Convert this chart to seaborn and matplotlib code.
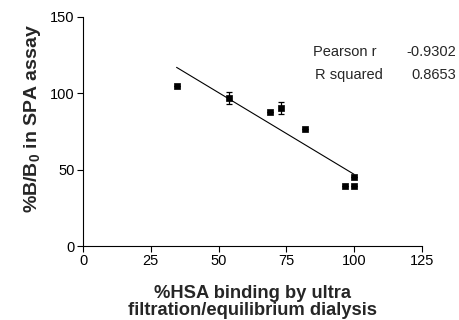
import numpy as np
import pandas as pd
import seaborn as sns
from matplotlib import pyplot as plt

# values
hsa_binding = [34.5, 53.7, 69.1, 73.0, 81.9, 96.8, 100.0, 100.0]
spa_bound = [104.8, 96.9, 87.8, 90.4, 76.4, 39.5, 45.2, 39.1]
spa_err = [0.0, 3.8, 0.0, 3.7, 0.0, 0.0, 0.0, 0.0]
stat_names = ["Pearson r", "R squared"]
stat_values = ["-0.9302", "0.8653"]
x_ticks = [0, 25, 50, 75, 100, 125]
y_ticks = [0, 50, 100, 150]

df = pd.DataFrame({"hsa": hsa_binding, "spa": spa_bound, "err": spa_err})

sns.set_style("ticks")
plt.rcParams["font.family"] = ["Liberation Sans", "DejaVu Sans"]
plt.rcParams["mathtext.fontset"] = "custom"
plt.rcParams["mathtext.rm"] = "Liberation Sans"
plt.rcParams["mathtext.bf"] = "Liberation Sans:bold"

fig = plt.figure(figsize=(4.59, 3.2), dpi=100)
ax = fig.add_axes([0.181, 0.231, 0.738, 0.716])

# linear regression line
sns.regplot(data=df, x="hsa", y="spa", ax=ax, scatter=False, ci=None,
            line_kws={"color": "black", "lw": 0.8})

# points with error bars
ax.errorbar(df["hsa"], df["spa"], yerr=df["err"], fmt="none",
            ecolor="black", elinewidth=0.9, capsize=2, capthick=0.9)
sns.scatterplot(data=df, x="hsa", y="spa", ax=ax, marker="s", s=24,
                color="black", edgecolor="black", linewidth=0.5, zorder=3)

ax.set_xlim(0, 125)
ax.set_ylim(0, 150)
ax.set_xticks(x_ticks)
ax.set_yticks(y_ticks)
ax.tick_params(direction="out", length=4, width=0.8, labelsize=10.5,
               colors="black", pad=2)
for s in ["left", "bottom"]:
    ax.spines[s].set_linewidth(0.8)
    ax.spines[s].set_color("black")
sns.despine(ax=ax)

ax.set_xlabel("%HSA binding by ultra\nfiltration/equilibrium dialysis",
              fontsize=13.2, fontweight="bold", linespacing=1.0)
ax.set_ylabel(r"%B/B$_{\mathbf{0}}$ in SPA assay", fontsize=14,
              fontweight="bold")
ax.xaxis.set_label_coords(0.5, -0.17)
ax.yaxis.set_label_coords(-0.118, 0.555)

# statistics table
for i, (name, val) in enumerate(zip(stat_names, stat_values)):
    yy = 0.848 - i * 0.101
    ax.text(0.678 + i * 0.006, yy, name, transform=ax.transAxes,
            fontsize=10.5, va="center", ha="left")
    ax.text(1.102, yy, val, transform=ax.transAxes, fontsize=10.5,
            va="center", ha="right")

fig.savefig("out.png", dpi=100)
